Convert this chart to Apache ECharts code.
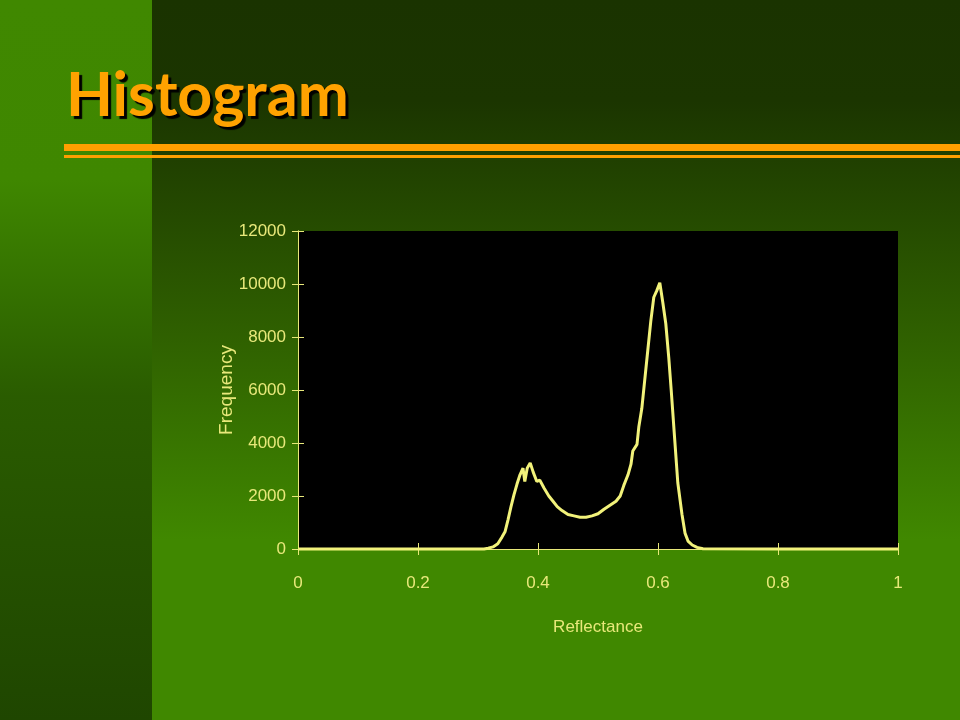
<!DOCTYPE html>
<html>
<head>
<meta charset="utf-8">
<style>html,body{margin:0;padding:0;background:#1a3300;}#c{width:960px;height:720px;}</style>
<script src="https://cdn.jsdelivr.net/npm/echarts@6/dist/echarts.min.js"></script>
</head>
<body>
<div id="c"></div>
<script>
const titleText = "Histogram";
const xAxisName = "Reflectance";
const yAxisName = "Frequency";
const reflectance = [0, 0.1, 0.2, 0.3, 0.31, 0.317, 0.325, 0.333, 0.340, 0.345, 0.350, 0.355, 0.360, 0.365, 0.370, 0.375, 0.378, 0.382, 0.387, 0.392, 0.398, 0.403, 0.410, 0.418, 0.425, 0.432, 0.440, 0.450, 0.460, 0.470, 0.480, 0.490, 0.500, 0.510, 0.520, 0.530, 0.537, 0.543, 0.550, 0.555, 0.558, 0.565, 0.568, 0.573, 0.578, 0.583, 0.588, 0.593, 0.598, 0.603, 0.608, 0.613, 0.618, 0.622, 0.627, 0.633, 0.640, 0.645, 0.650, 0.657, 0.665, 0.675, 0.8, 1];
const frequency = [0, 0, 0, 0, 0, 30, 80, 200, 450, 650, 1100, 1600, 2050, 2450, 2800, 3050, 2550, 3050, 3250, 2900, 2550, 2600, 2300, 2000, 1800, 1600, 1450, 1300, 1250, 1200, 1200, 1250, 1330, 1500, 1650, 1800, 2000, 2400, 2800, 3200, 3700, 3950, 4600, 5300, 6400, 7500, 8600, 9500, 9750, 10050, 9300, 8500, 7200, 6000, 4400, 2500, 1300, 600, 300, 150, 60, 10, 0, 0];
const yTicks = [0, 2000, 4000, 6000, 8000, 10000, 12000];
const xTicks = [0, 0.2, 0.4, 0.6, 0.8, 1];

const txt = '#e8e87a';
const axisCol = '#e8e87a';
const font = '"Liberation Sans Narrow", "Liberation Sans", Arial, sans-serif';
const chart = echarts.init(document.getElementById('c'));
const pts = reflectance.map((r, i) => [r, frequency[i]]);

const baseX = {
  type: 'value', min: xTicks[0], max: xTicks[xTicks.length - 1], interval: 0.2,
  splitLine: { show: false },
  axisLine: { show: true, onZero: false, lineStyle: { color: axisCol, width: 1 } }
};
const baseY = {
  type: 'value', min: yTicks[0], max: yTicks[yTicks.length - 1], interval: 2000,
  splitLine: { show: false },
  axisLine: { show: true, onZero: false, lineStyle: { color: axisCol, width: 1 } }
};

chart.setOption({
  animation: false,
  backgroundColor: 'transparent',
  graphic: [
    { type: 'rect', z: -10, shape: { x: 0, y: 0, width: 960, height: 720 },
      style: { fill: new echarts.graphic.LinearGradient(0, 0, 0, 1, [
        { offset: 0, color: '#1a3300' }, { offset: 0.14, color: '#1b3500' },
        { offset: 0.45, color: '#2e5e00' }, { offset: 0.75, color: '#408800' }, { offset: 1, color: '#408800' }]) } },
    { type: 'rect', z: -9, shape: { x: 0, y: 0, width: 152, height: 720 },
      style: { fill: new echarts.graphic.LinearGradient(0, 0, 0, 1, [
        { offset: 0, color: '#408800' }, { offset: 0.25, color: '#3f8700' },
        { offset: 0.55, color: '#2a5c00' }, { offset: 1, color: '#1f4600' }]) } },
    { type: 'rect', z: -5, shape: { x: 64, y: 144, width: 896, height: 7 }, style: { fill: '#ff9f00' } },
    { type: 'rect', z: -5, shape: { x: 64, y: 155, width: 896, height: 3 }, style: { fill: '#ff9f00' } },
    { type: 'text', z: 5, left: 66, top: 66,
      style: { text: titleText, fill: '#ffa200', font: 'bold 61px "Lato", "Noto Sans", sans-serif',
        shadowColor: '#000', shadowOffsetX: 3, shadowOffsetY: 3, shadowBlur: 1,
        textShadowColor: '#000', textShadowOffsetX: 3, textShadowOffsetY: 3, textShadowBlur: 1 } }
  ],
  grid: { left: 298, top: 231, width: 600, height: 318, show: true, backgroundColor: '#000000', borderWidth: 0 },
  xAxis: [
    Object.assign({}, baseX, {
      name: xAxisName, nameLocation: 'middle', nameGap: 70,
      nameTextStyle: { color: txt, fontSize: 17, fontFamily: font },
      axisTick: { show: true, inside: false, length: 6, lineStyle: { color: axisCol } },
      axisLabel: { color: txt, fontSize: 17, fontFamily: font, margin: 26 }
    }),
    Object.assign({}, baseX, {
      position: 'bottom', axisTick: { show: true, inside: true, length: 6, lineStyle: { color: axisCol } },
      axisLabel: { show: false }
    })
  ],
  yAxis: [
    Object.assign({}, baseY, {
      name: yAxisName, nameLocation: 'middle', nameGap: 62, nameRotate: 90, nameMoveOverlap: false,
      nameTextStyle: { color: txt, fontSize: 19, fontFamily: '"Liberation Sans", Arial, sans-serif' },
      axisTick: { show: true, inside: false, length: 6, lineStyle: { color: axisCol } },
      axisLabel: { color: txt, fontSize: 17, fontFamily: font, margin: 12, formatter: v => String(v) }
    }),
    Object.assign({}, baseY, {
      position: 'left', axisTick: { show: true, inside: true, length: 6, lineStyle: { color: axisCol } },
      axisLabel: { show: false }
    })
  ],
  series: [{
    type: 'line', data: pts, xAxisIndex: 0, yAxisIndex: 0,
    showSymbol: false, symbol: 'none', clip: false,
    lineStyle: { color: '#f2f27a', width: 3 }
  }]
});
</script>
</body>
</html>
